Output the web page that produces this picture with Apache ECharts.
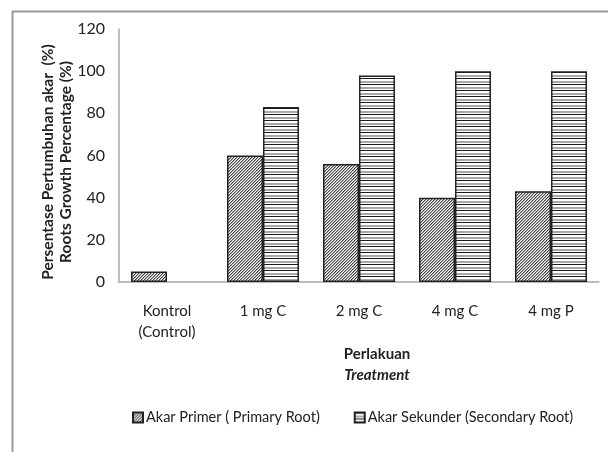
<!DOCTYPE html>
<html>
<head>
<meta charset="utf-8">
<script src="https://cdn.jsdelivr.net/npm/echarts@6/dist/echarts.min.js"></script>
<style>html,body{margin:0;padding:0;background:#fff}#c{width:608px;height:452px}</style>
</head>
<body>
<div id="c"></div>
<script>
var categories = ['Kontrol\n(Control)', '1 mg C', '2 mg C', '4 mg C', '4 mg P'];
var primaryRoot = [5, 60, 56, 40, 43];
var secondaryRoot = [0, 83, 98, 100, 100];
var yTicks = [0, 20, 40, 60, 80, 100, 120];
var seriesNames = ['Akar Primer ( Primary Root)', 'Akar Sekunder (Secondary Root)'];

function diagPattern() {
  var c = document.createElement('canvas');
  c.width = 6; c.height = 6;
  var ctx = c.getContext('2d');
  ctx.fillStyle = '#fff'; ctx.fillRect(0, 0, 6, 6);
  for (var x = 0; x < 6; x++) for (var y = 0; y < 6; y++) {
    var m = (x + y) % 3;
    if (m === 0) { ctx.fillStyle = '#444'; ctx.fillRect(x, y, 1, 1); }
    else if (m === 1) { ctx.fillStyle = '#aaa'; ctx.fillRect(x, y, 1, 1); }
  }
  return c;
}
function horizPattern() {
  var c = document.createElement('canvas');
  c.width = 4; c.height = 6;
  var ctx = c.getContext('2d');
  ctx.fillStyle = '#fff'; ctx.fillRect(0, 0, 4, 6);
  ctx.fillStyle = '#1a1a1a'; ctx.fillRect(0, 0, 4, 1);
  ctx.fillStyle = '#a8a8a8'; ctx.fillRect(0, 3, 4, 2);
  return c;
}
function withHiddenZero(arr) {
  return arr.map(function (v) { return v === 0 ? {value: v, itemStyle: {borderWidth: 0}} : v; });
}

var FONT = 'Lato';
var chart = echarts.init(document.getElementById('c'), null, {renderer: 'canvas'});
chart.setOption({
  backgroundColor: '#fff',
  animation: false,
  textStyle: {fontFamily: FONT},
  grid: {left: 119, right: 9, top: 29, bottom: 170},
  xAxis: {
    type: 'category',
    data: categories,
    axisLine: {lineStyle: {color: '#a6a6a6', width: 1.5}},
    axisTick: {show: false},
    axisLabel: {color: '#222', fontSize: 15, fontFamily: FONT, margin: 19, lineHeight: 21, interval: 0}
  },
  yAxis: {
    type: 'value',
    min: yTicks[0], max: yTicks[yTicks.length - 1], interval: 20,
    axisLine: {show: true, lineStyle: {color: '#a6a6a6', width: 1.5}},
    axisTick: {show: false},
    splitLine: {show: false},
    axisLabel: {color: '#222', fontSize: 16, fontFamily: FONT, margin: 14}
  },
  legend: {
    top: 405,
    left: 127,
    itemWidth: 10, itemHeight: 10,
    itemGap: 34,
    icon: 'rect',
    textStyle: {fontSize: 14.5, color: '#222', fontFamily: FONT, padding: [0, 0, 0, -2]},
    data: seriesNames
  },
  series: [
    {
      name: seriesNames[0], type: 'bar', data: withHiddenZero(primaryRoot),
      barGap: '0%', barCategoryGap: '25%',
      itemStyle: {color: {image: diagPattern(), repeat: 'repeat'}, borderColor: '#222', borderWidth: 1.5}
    },
    {
      name: seriesNames[1], type: 'bar', data: withHiddenZero(secondaryRoot),
      barGap: '0%', barCategoryGap: '25%',
      itemStyle: {color: {image: horizPattern(), repeat: 'repeat'}, borderColor: '#222', borderWidth: 1.5}
    }
  ],
  graphic: [
    {type: 'rect', left: 10, top: 9, silent: true, z: -1,
     shape: {x: 0, y: 0, width: 700, height: 600},
     style: {fill: 'none', stroke: '#999', lineWidth: 2}},
    {type: 'text', x: 48, y: 162, rotation: Math.PI / 2,
     style: {text: 'Persentase Pertumbuhan akar  (%)', font: 'bold 15.5px Lato', fill: '#222', textAlign: 'center', textVerticalAlign: 'middle'}},
    {type: 'text', x: 66, y: 162, rotation: Math.PI / 2,
     style: {text: 'Roots Growth Percentage (%)', font: 'bold 15.5px Lato', fill: '#222', textAlign: 'center', textVerticalAlign: 'middle'}},
    {type: 'text', x: 377, y: 354,
     style: {text: 'Perlakuan', font: 'bold 15px Lato', fill: '#222', textAlign: 'center', textVerticalAlign: 'middle'}},
    {type: 'text', x: 377, y: 375,
     style: {text: 'Treatment', font: 'italic bold 15px Lato', fill: '#222', textAlign: 'center', textVerticalAlign: 'middle'}}
  ]
});
</script>
</body>
</html>
